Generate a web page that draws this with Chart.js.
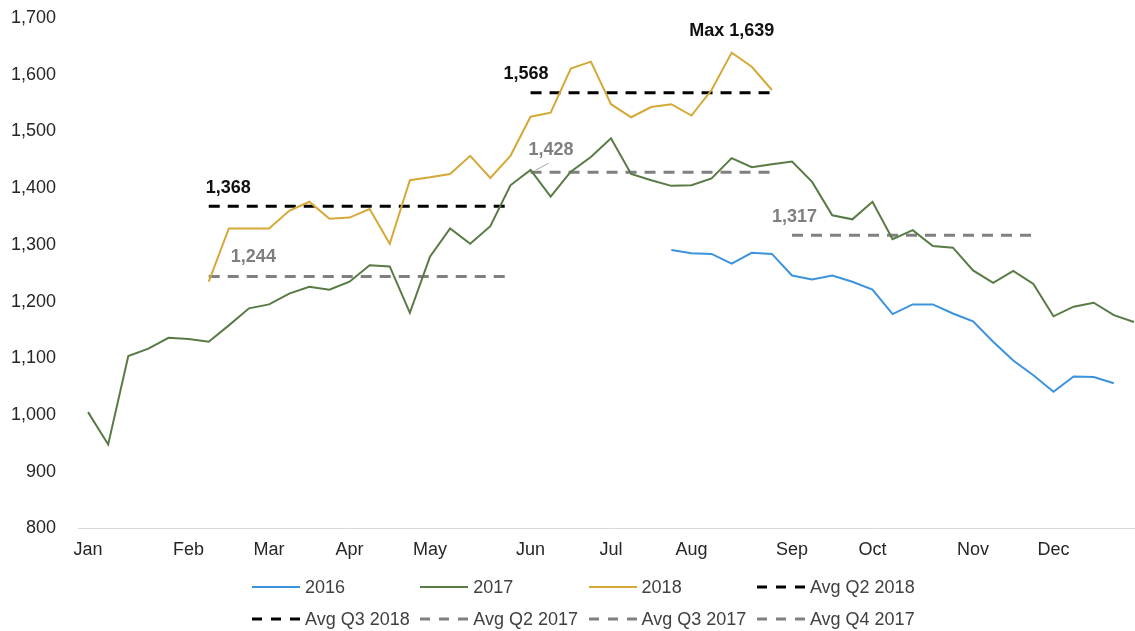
<!DOCTYPE html>
<html>
<head>
<meta charset="utf-8">
<title>Weekly chart</title>
<script src="https://cdn.jsdelivr.net/npm/chart.js@4/dist/chart.umd.min.js"></script>
<style>
  html, body { margin: 0; padding: 0; background: #fff; overflow: hidden; }
  #wrap { position: relative; width: 1146px; height: 631px; }
  #myChart { position: absolute; left: 0; top: 0; }
  #legend { position: absolute; left: 0; top: 0; width: 1146px; height: 631px; pointer-events: none; }
  #legend .item { position: absolute; display: flex; align-items: center; height: 22px; }
  #legend span { margin-left: 5px; font: 18px "Liberation Sans", Arial, sans-serif; color: #404040; line-height: 22px; white-space: nowrap; }
</style>
</head>
<body>
<div id="wrap">
  <canvas id="myChart" width="1146" height="631"></canvas>
  <div id="legend"></div>
</div>
<script>
// 53 weekly categories
var weeks = [];
for (var w = 1; w <= 53; w++) weeks.push('W' + w);

// month tick labels and the week index they sit on
var monthLabels = ['Jan', 'Feb', 'Mar', 'Apr', 'May', 'Jun', 'Jul', 'Aug', 'Sep', 'Oct', 'Nov', 'Dec'];
var monthWeeks = [0, 5, 9, 13, 17, 22, 26, 30, 35, 39, 44, 48];

var yMin = 800, yMax = 1700, yStep = 100;

// series (start = first week index with data)
var start2016 = 29;
var values2016 = [1291, 1285, 1284, 1267, 1286, 1284, 1246, 1239, 1246, 1235, 1221, 1178,
  1195, 1195, 1179, 1165, 1129, 1096, 1070, 1041, 1068, 1067, 1056];

var start2017 = 0;
var values2017 = [1005, 948, 1104, 1117, 1136, 1134, 1129, 1158, 1188, 1195,
  1214, 1226, 1221, 1235, 1264, 1262, 1180, 1279, 1329, 1302,
  1333, 1405, 1432, 1385, 1429, 1455, 1488, 1425, 1414, 1404,
  1405, 1417, 1453, 1437, 1442, 1447, 1411, 1352, 1345, 1376,
  1310, 1326, 1298, 1295, 1255, 1233, 1254, 1231, 1174, 1191,
  1198, 1176, 1164];

var start2018 = 6;
var values2018 = [1235, 1329, 1329, 1329, 1360, 1376, 1346, 1348, 1363, 1302,
  1414, 1419, 1425, 1457, 1418, 1457, 1526, 1533, 1611, 1623,
  1548, 1525, 1543, 1548, 1528, 1573, 1639, 1614, 1573];

// quarter averages: value, first week, last week
var avgQ2_2018 = [1368, 6, 21];
var avgQ3_2018 = [1568, 22, 34];
var avgQ2_2017 = [1244, 6, 21];
var avgQ3_2017 = [1428, 22, 34];
var avgQ4_2017 = [1317, 35, 47];

function fmt(v) { return v.toLocaleString('en-US'); }

function series(start, values) {
  var out = [];
  for (var i = 0; i < weeks.length; i++) {
    var j = i - start;
    out.push(j >= 0 && j < values.length ? values[j] : null);
  }
  return out;
}

function avgLine(avg) {
  var out = [];
  for (var i = 0; i < weeks.length; i++) {
    out.push(i >= avg[1] && i <= avg[2] ? avg[0] : null);
  }
  return out;
}

var BLUE = '#3a93dc', GREEN = '#587b45', GOLD = '#d5a937', BLACK = '#000000', GREY = '#808080';
var FONT = '"Liberation Sans", Arial, sans-serif';

function solid(label, data, color) {
  return { label: label, data: data, borderColor: color, backgroundColor: color, borderWidth: 2,
    pointRadius: 0, tension: 0, fill: false, spanGaps: false };
}
function dashed(label, data, color) {
  return { label: label, data: data, borderColor: color, backgroundColor: color, borderWidth: 3,
    borderDash: [11, 8], pointRadius: 0, tension: 0, fill: false, spanGaps: false };
}

var maxValue = Math.max.apply(null, values2018);

// value labels drawn next to the lines
var notes = [
  { text: fmt(avgQ2_2018[0]), week: 6, value: avgQ2_2018[0], color: '#111', dx: -3, dy: -18, align: 'left' },
  { text: fmt(avgQ2_2017[0]), week: 7, value: avgQ2_2017[0], color: '#7f7f7f', dx: 2, dy: -20, align: 'left' },
  { text: fmt(avgQ3_2018[0]), week: 21, value: avgQ3_2018[0], color: '#111', dx: -7, dy: -19, align: 'left' },
  { text: fmt(avgQ3_2017[0]), week: 22, value: avgQ3_2017[0], color: '#7f7f7f', dx: -2, dy: -22, align: 'left', leader: true },
  { text: 'Max ' + fmt(maxValue), week: start2018 + values2018.indexOf(maxValue), value: maxValue,
    color: '#111', dx: 0, dy: -22, align: 'center' },
  { text: fmt(avgQ4_2017[0]), week: 34, value: avgQ4_2017[0], color: '#7f7f7f', dx: 0, dy: -18, align: 'left' }
];

var notesPlugin = {
  id: 'notes',
  afterDatasetsDraw: function (chart) {
    var ctx = chart.ctx, xs = chart.scales.x, ys = chart.scales.y;
    ctx.save();
    ctx.font = 'bold 18px ' + FONT;
    ctx.textBaseline = 'middle';
    notes.forEach(function (n) {
      var px = xs.getPixelForValue(n.week), py = ys.getPixelForValue(n.value);
      ctx.fillStyle = n.color;
      ctx.textAlign = n.align;
      ctx.fillText(n.text, px + n.dx, py + n.dy);
      if (n.leader) {
        ctx.strokeStyle = '#a6a6a6';
        ctx.lineWidth = 1;
        ctx.beginPath();
        ctx.moveTo(px + 5, py - 2);
        ctx.lineTo(px + 18, py - 9);
        ctx.stroke();
      }
    });
    ctx.restore();
  }
};

// legend laid out in four columns like the original
var htmlLegend = {
  id: 'htmlLegend',
  afterUpdate: function (chart) {
    var box = document.getElementById('legend');
    box.innerHTML = '';
    var items = chart.options.plugins.legend.labels.generateLabels(chart);
    items.forEach(function (item, i) {
      var col = i % 4, row = Math.floor(i / 4);
      var div = document.createElement('div');
      div.className = 'item';
      div.style.left = (252 + col * 168.3) + 'px';
      div.style.top = (576 + row * 31.7) + 'px';
      var dash = item.lineDash && item.lineDash.length ? ' stroke-dasharray="10 9"' : '';
      div.innerHTML = '<svg width="48" height="22"><line x1="0" y1="11" x2="48" y2="11" stroke="' +
        item.strokeStyle + '" stroke-width="' + item.lineWidth + '"' + dash + '/></svg><span>' + item.text + '</span>';
      box.appendChild(div);
    });
  }
};

window.onload = function () {
  var ctx = document.getElementById('myChart').getContext('2d');
  var myChart = new Chart(ctx, {
    type: 'line',
    data: {
      labels: weeks,
      datasets: [
        solid('2016', series(start2016, values2016), BLUE),
        solid('2017', series(start2017, values2017), GREEN),
        solid('2018', series(start2018, values2018), GOLD),
        dashed('Avg Q2 2018', avgLine(avgQ2_2018), BLACK),
        dashed('Avg Q3 2018', avgLine(avgQ3_2018), BLACK),
        dashed('Avg Q2 2017', avgLine(avgQ2_2017), GREY),
        dashed('Avg Q3 2017', avgLine(avgQ3_2017), GREY),
        dashed('Avg Q4 2017', avgLine(avgQ4_2017), GREY)
      ]
    },
    options: {
      responsive: false,
      animation: false,
      layout: { padding: { top: 18, right: 2, bottom: 59, left: 0 } },
      plugins: {
        legend: { display: false },
        tooltip: { enabled: false }
      },
      scales: {
        x: {
          offset: true,
          grid: { display: false, drawTicks: false },
          border: { display: true, color: '#d9d9d9', width: 1 },
          ticks: {
            autoSkip: false, maxRotation: 0, padding: 11,
            color: '#262626', font: { family: FONT, size: 18 },
            callback: function (v, i) {
              var k = monthWeeks.indexOf(i);
              return k >= 0 ? monthLabels[k] : '';
            }
          }
        },
        y: {
          min: yMin,
          max: yMax,
          grid: { display: false, drawTicks: true, tickLength: 22 },
          border: { display: false },
          ticks: {
            stepSize: yStep, padding: 0, color: '#262626', font: { family: FONT, size: 18 },
            callback: function (v) { return fmt(v); }
          },
          afterFit: function (scale) { scale.width = 78; }
        }
      }
    },
    plugins: [notesPlugin, htmlLegend]
  });
};
</script>
</body>
</html>
